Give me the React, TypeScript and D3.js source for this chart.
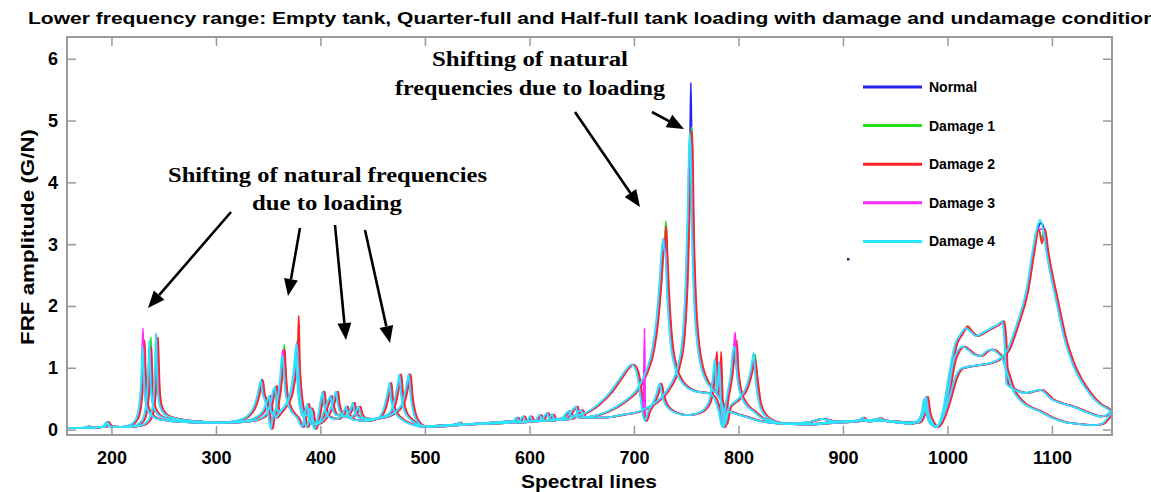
import React from "react";
import * as d3 from "d3";

const X_TICKS = [200, 300, 400, 500, 600, 700, 800, 900, 1000, 1100];
const Y_TICKS = [0, 1, 2, 3, 4, 5, 6];
const CONDITIONS = ["Normal", "Damage 1", "Damage 2", "Damage 3", "Damage 4"];
const COLORS = ["#2424f0", "#22e022", "#ff2222", "#ff28ff", "#28e8f8"];
// small frequency offset of each condition (spectral lines)
const SHIFT = [0, 0.6, 1.0, -0.6, -1.0];

// Empty tank (highest natural frequencies)
const EMPTY: [number, number][] = [
  [157,0.03],[175,0.04],[178,0.06],[181,0.04],[192,0.05],[196,0.13],[199,0.06],[215,0.05],[228,0.07],[235,0.14],[239,0.3],[241,0.6],[242.3,1.1],[243.1,1.55],[243.9,1.1],[245,0.6],[247,0.38],[251,0.26],[258,0.2],[270,0.16],[290,0.13],[310,0.12],[325,0.13],[340,0.17],[348,0.25],[353,0.45],[355.5,0.65],[357,0.7],[358.5,0.4],[360,0.3],[366,0.38],[371,0.55],[374.5,0.9],[376.8,1.3],[377.8,1.5],[378.8,1.1],[381,0.55],[384,0.25],[387,0.05],[390,0.2],[392,0.32],[393.5,0.15],[397,0.1],[405,0.2],[411,0.38],[414,0.55],[415.5,0.62],[417,0.42],[421,0.25],[428,0.2],[434,0.28],[437,0.38],[439,0.25],[445,0.17],[460,0.2],[474,0.32],[480,0.5],[483.5,0.78],[485,0.9],[486.5,0.6],[490,0.25],[495,0.1],[500,0.06],[515,0.07],[530,0.09],[533,0.12],[536,0.09],[560,0.1],[585,0.12],[598,0.13],[601,0.22],[604,0.14],[618,0.16],[622,0.25],[625,0.16],[640,0.18],[650,0.32],[653,0.2],[670,0.2],[690,0.25],[705,0.3],[715,0.38],[725,0.5],[735,0.72],[742,1.0],[747,1.5],[750,2.4],[752,3.6],[753.2,4.6],[754,5.0],[754.8,4.5],[756,3.2],[758,2.1],[761,1.4],[765,1.0],[770,0.78],[776,0.65],[781,0.55],[785,0.4],[788,0.1],[791,0.35],[800,0.5],[808,0.7],[812,0.95],[814,1.15],[815,1.22],[816.5,0.9],[820,0.45],[825,0.25],[833,0.15],[845,0.1],[870,0.09],[895,0.12],[915,0.14],[919,0.2],[923,0.14],[935,0.15],[950,0.13],[965,0.1],[972,0.15],[976,0.3],[978,0.5],[980,0.3],[984,0.1],[990,0.06],[996,0.2],[1002,0.5],[1008,0.85],[1014,1.0],[1022,1.03],[1030,1.05],[1040,1.08],[1050,1.15],[1058,1.3],[1066,1.67],[1076,2.26],[1082,2.9],[1086,3.25],[1089,3.4],[1092,3.25],[1095,2.9],[1105,2.05],[1112,1.5],[1120,1.08],[1136,0.6],[1146,0.42],[1152,0.36],[1157,0.3]
];

// Quarter-full tank
const QUARTER: [number, number][] = [
  [157,0.03],[180,0.04],[194,0.05],[197,0.1],[200,0.05],[215,0.05],[224,0.08],[230,0.16],[233,0.35],[235,0.7],[236,1.1],[236.7,1.45],[237.4,1.05],[238.5,0.6],[240.5,0.38],[245,0.25],[252,0.19],[265,0.15],[285,0.12],[305,0.12],[325,0.14],[338,0.2],[345,0.3],[349,0.45],[351.7,0.55],[353,0.3],[356,0.25],[359,0.45],[362,0.85],[363.6,1.2],[364.4,1.35],[365.3,1.0],[367,0.6],[371,0.35],[378,0.2],[383,0.05],[386,0.3],[388,0.42],[389.5,0.2],[393,0.08],[400,0.15],[405,0.35],[408.5,0.5],[410,0.55],[411.5,0.4],[415,0.25],[423,0.22],[429,0.32],[431.5,0.44],[433,0.3],[438,0.2],[450,0.18],[465,0.25],[471,0.45],[474.5,0.75],[476,0.9],[477.5,0.6],[481,0.3],[486,0.18],[492,0.1],[500,0.06],[520,0.08],[545,0.1],[580,0.14],[591,0.15],[594,0.22],[597,0.14],[612,0.16],[617,0.27],[620,0.17],[635,0.2],[643,0.35],[645,0.38],[647,0.2],[660,0.22],[675,0.3],[690,0.45],[705,0.7],[712,0.95],[718,1.3],[722,1.8],[725,2.4],[727,2.9],[728.5,3.1],[729.5,3.25],[730.5,2.9],[732,2.3],[735,1.5],[740,1.0],[746,0.78],[752,0.68],[760,0.62],[770,0.6],[776,0.55],[781,0.35],[785,0.05],[789,0.5],[793,0.9],[795.5,1.3],[797,1.45],[798.5,1.0],[802,0.6],[808,0.4],[815,0.3],[822,0.2],[830,0.15],[845,0.11],[865,0.12],[880,0.18],[893,0.14],[910,0.15],[930,0.17],[935,0.19],[940,0.15],[960,0.12],[972,0.12],[977,0.25],[980,0.54],[982,0.3],[986,0.12],[990,0.05],[996,0.3],[1002,0.9],[1008,1.4],[1013,1.55],[1018,1.65],[1022,1.6],[1028,1.52],[1035,1.58],[1042,1.65],[1048,1.7],[1053,1.76],[1055,1.45],[1057,0.75],[1062,0.68],[1075,0.6],[1089,0.65],[1100,0.5],[1110,0.43],[1120,0.38],[1135,0.28],[1146,0.22],[1152,0.24],[1157,0.32]
];

// Half-full tank (lowest natural frequencies)
const HALF: [number, number][] = [
  [157,0.03],[185,0.04],[193,0.06],[196,0.12],[199,0.05],[210,0.05],[218,0.08],[224,0.18],[227,0.4],[229,0.8],[230.3,1.45],[231.2,1.0],[232.5,0.55],[235,0.33],[240,0.22],[250,0.16],[270,0.13],[300,0.12],[320,0.15],[330,0.22],[336,0.35],[340,0.55],[342.5,0.75],[343.7,0.8],[345,0.6],[347,0.5],[350,0.3],[353,0.02],[355.5,0.3],[357.5,0.2],[360,0.25],[366,0.38],[372,0.6],[375,0.9],[376.5,1.1],[377.2,1.2],[378.2,0.85],[380,0.45],[384,0.22],[388,0.25],[391,0.35],[392.5,0.15],[395,0.02],[399,0.3],[401.5,0.55],[402.7,0.62],[404,0.4],[408,0.22],[416,0.18],[422,0.27],[425,0.38],[426.5,0.26],[432,0.17],[445,0.15],[456,0.2],[462,0.4],[465.3,0.65],[466.6,0.76],[468,0.5],[472,0.28],[480,0.15],[490,0.08],[500,0.05],[515,0.06],[540,0.09],[570,0.12],[585,0.14],[588,0.2],[591,0.13],[606,0.15],[610,0.24],[614,0.15],[630,0.17],[638,0.3],[641,0.22],[650,0.25],[665,0.4],[678,0.62],[688,0.86],[694,1.0],[698,1.06],[701,1.02],[704,0.85],[707,0.5],[709,0.25],[711,0.15],[714,0.3],[718,0.42],[722,0.58],[725,0.75],[727,0.6],[731,0.4],[740,0.28],[752,0.24],[765,0.3],[772,0.45],[776,0.85],[778,1.15],[779.5,0.6],[781,0.8],[782,1.1],[783.5,0.5],[786,0.05],[790,0.3],[800,0.25],[810,0.2],[820,0.15],[830,0.12],[845,0.1],[870,0.1],[890,0.13],[905,0.14],[925,0.16],[945,0.15],[965,0.12],[974,0.15],[978,0.3],[980,0.4],[983,0.2],[988,0.05],[993,0.1],[1000,0.5],[1006,1.1],[1011,1.3],[1015,1.35],[1020,1.3],[1026,1.22],[1032,1.2],[1038,1.28],[1043,1.3],[1048,1.25],[1053,1.15],[1057,0.95],[1063,0.65],[1072,0.45],[1089,0.3],[1100,0.2],[1112,0.13],[1125,0.1],[1140,0.08],[1148,0.1],[1153,0.18],[1157,0.28]
];

const LOADINGS = [EMPTY, QUARTER, HALF];

// per-condition peak tips: [loading index, spectral line, amplitude]
const TIPS_NORMAL: [number, number, number][] = [[2,230.3,1.45],[1,236.7,1.4],[0,243.1,1.5],[2,343.7,0.82],[1,364.4,1.25],[0,377.8,1.45],[1,729.5,3.0],[0,754,5.62],[1,797,1.45],[0,1089,3.35]];
const TIPS_D1: [number, number, number][] = [[2,230.3,1.45],[1,236.7,1.5],[0,243.1,1.5],[1,364.4,1.38],[0,377.8,1.45],[1,729.5,3.38],[0,754,4.9],[1,797,1.4],[0,1089,3.1]];
const TIPS_D2: [number, number, number][] = [[2,230.3,1.45],[1,236.7,1.35],[0,243.1,1.5],[0,357,0.72],[1,364.4,1.3],[0,377.8,1.85],[1,729.5,3.3],[0,754,4.85],[2,778,1.27],[2,782,1.27],[0,815,1.1],[1,1018,1.68],[0,1089,3.02]];
const TIPS_D3: [number, number, number][] = [[2,230.3,1.65],[1,236.7,1.3],[0,243.1,1.55],[1,364.4,1.3],[0,377.8,1.4],[2,710.3,1.65],[1,729.5,2.95],[0,754,4.7],[1,797,1.58],[0,1089,3.25]];
const TIPS_D4: [number, number, number][] = [[2,230.3,1.35],[1,236.7,1.45],[0,243.1,1.57],[1,364.4,1.2],[0,377.8,1.4],[1,729.5,2.9],[0,754,4.8],[1,797,1.35],[0,815,1.25],[0,1089,3.4]];
const TIPS = [TIPS_NORMAL, TIPS_D1, TIPS_D2, TIPS_D3, TIPS_D4];

const TITLE = "Lower frequency range: Empty tank, Quarter-full and Half-full tank loading with damage and undamage condition";

const W = 1151, H = 492;
const L = 67, R = 1112, T = 37, B = 435;

function buildCurve(base: [number, number][], tips: [number, number, number][], loading: number, shift: number) {
  const pts = base.map((p) => [p[0], p[1]] as [number, number]);
  tips.filter((t) => t[0] === loading).forEach(([, x, y]) => {
    let best = -1, bd = 1e9;
    pts.forEach((p, i) => { const d = Math.abs(p[0] - x); if (d < bd) { bd = d; best = i; } });
    if (bd <= 0.3) pts[best][1] = y; else pts.push([x, y]);
  });
  pts.sort((a, b) => a[0] - b[0]);
  return pts.map((p) => [p[0] + shift, p[1]] as [number, number]);
}

function Arrow({ x1, y1, x2, y2 }: { x1: number; y1: number; x2: number; y2: number }) {
  const a = Math.atan2(y2 - y1, x2 - x1);
  const len = 17, hw = 7;
  const bx = x2 - len * Math.cos(a), by = y2 - len * Math.sin(a);
  const px = -Math.sin(a) * hw, py = Math.cos(a) * hw;
  return (
    <g>
      <line x1={x1} y1={y1} x2={bx} y2={by} stroke="#000" strokeWidth={2.6} />
      <polygon points={`${x2},${y2} ${bx + px},${by + py} ${bx - px},${by - py}`} fill="#000" />
    </g>
  );
}

export default function App() {
  const x = d3.scaleLinear().domain([157, 1157]).range([L, R]);
  const y = d3.scaleLinear().domain([-0.08, 6.36]).range([B, T]);
  const line = d3.line<[number, number]>().x((d) => x(d[0])).y((d) => y(d[1])).curve(d3.curveMonotoneX);
  const sans = "'Liberation Sans', Arial, Helvetica, sans-serif";
  const serif = "'Liberation Serif', 'Times New Roman', serif";
  const axisColor = "#9a9a9a";

  return (
    <svg width={W} height={H} style={{ position: "absolute", left: 0, top: 0, background: "#fff" }}>
      <defs>
        <clipPath id="plot"><rect x={L} y={T} width={R - L} height={B - T} /></clipPath>
      </defs>
      <rect x={0} y={0} width={W} height={H} fill="#fff" />
      <text x={28} y={24} fontFamily={sans} fontWeight="bold" fontSize={17} textLength={1128} lengthAdjust="spacingAndGlyphs">{TITLE}</text>

      <g clipPath="url(#plot)">
        {CONDITIONS.map((c, ci) => (
          <g key={c}>
            {LOADINGS.map((base, li) => (
              <path key={li} d={line(buildCurve(base, TIPS[ci], li, SHIFT[ci])) || ""} fill="none" stroke={COLORS[ci]} strokeWidth={1.8} strokeLinejoin="round" />
            ))}
          </g>
        ))}
      </g>

      {/* axes box and ticks */}
      <rect x={L} y={T} width={R - L} height={B - T} fill="none" stroke={axisColor} strokeWidth={2} />
      {X_TICKS.map((t) => (
        <g key={t}>
          <line x1={x(t)} x2={x(t)} y1={B} y2={B - 9} stroke={axisColor} strokeWidth={1.5} />
          <line x1={x(t)} x2={x(t)} y1={T} y2={T + 9} stroke={axisColor} strokeWidth={1.5} />
          <text x={x(t)} y={464} textAnchor="middle" fontFamily={sans} fontWeight="bold" fontSize={18}>{t}</text>
        </g>
      ))}
      {Y_TICKS.map((t) => (
        <g key={t}>
          <line x1={L} x2={L + 9} y1={y(t)} y2={y(t)} stroke={axisColor} strokeWidth={1.5} />
          <line x1={R} x2={R - 9} y1={y(t)} y2={y(t)} stroke={axisColor} strokeWidth={1.5} />
          <text x={58} y={y(t) + 6} textAnchor="end" fontFamily={sans} fontWeight="bold" fontSize={18}>{t}</text>
        </g>
      ))}
      <text x={589} y={488} textAnchor="middle" fontFamily={sans} fontWeight="bold" fontSize={19} textLength={136} lengthAdjust="spacingAndGlyphs">Spectral lines</text>
      <text transform="translate(34,237) rotate(-90)" textAnchor="middle" fontFamily={sans} fontWeight="bold" fontSize={19} textLength={216} lengthAdjust="spacingAndGlyphs">FRF amplitude (G/N)</text>

      {/* legend */}
      {CONDITIONS.map((c, i) => {
        const ly = 87 + i * 38.6;
        return (
          <g key={c}>
            <line x1={863} x2={922} y1={ly} y2={ly} stroke={COLORS[i]} strokeWidth={3} />
            <text x={929} y={ly + 5} fontFamily={sans} fontWeight="bold" fontSize={14}>{c}</text>
          </g>
        );
      })}
      <rect x={847} y={258} width={2.5} height={2.5} fill="#1a2a70" />

      {/* annotations */}
      <text x={168} y={182} fontFamily={serif} fontWeight="bold" fontSize={20} textLength={319} lengthAdjust="spacingAndGlyphs">Shifting of natural frequencies</text>
      <text x={252} y={210} fontFamily={serif} fontWeight="bold" fontSize={20} textLength={150} lengthAdjust="spacingAndGlyphs">due to loading</text>
      <text x={432} y={66} fontFamily={serif} fontWeight="bold" fontSize={20} textLength={196} lengthAdjust="spacingAndGlyphs">Shifting of natural</text>
      <text x={395} y={95} fontFamily={serif} fontWeight="bold" fontSize={20} textLength={270} lengthAdjust="spacingAndGlyphs">frequencies due to loading</text>
      <Arrow x1={231} y1={212} x2={148} y2={308} />
      <Arrow x1={300} y1={228} x2={288} y2={296} />
      <Arrow x1={335} y1={225} x2={346} y2={340} />
      <Arrow x1={365} y1={230} x2={390} y2={343} />
      <Arrow x1={575} y1={112} x2={640} y2={207} />
      <Arrow x1={652} y1={112} x2={684} y2={129} />
    </svg>
  );
}
